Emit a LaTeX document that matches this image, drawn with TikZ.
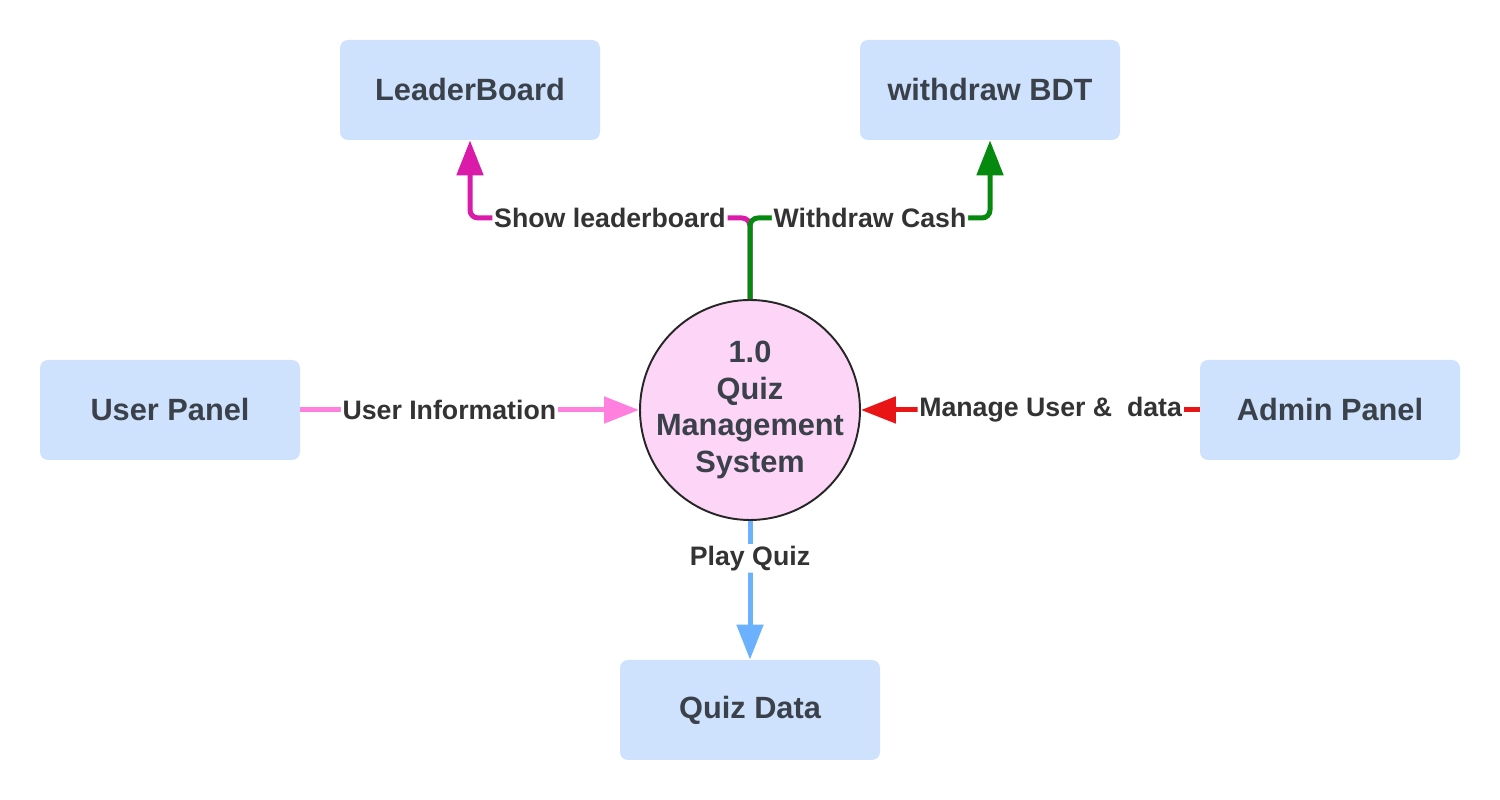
\documentclass[tikz,border=0pt]{standalone}
\usepackage{fontspec}
\setmainfont{Liberation Sans}
\usetikzlibrary{arrows.meta}
\definecolor{boxblue}{HTML}{CFE2FD}
\definecolor{boxtext}{HTML}{3A414A}
\definecolor{labtext}{HTML}{333333}
\definecolor{procpink}{HTML}{FDD5F6}
\definecolor{infopink}{HTML}{FF80DF}
\definecolor{mgmtred}{HTML}{E81416}
\definecolor{quizblue}{HTML}{6CB1FE}
\definecolor{lbmagenta}{HTML}{DA1AA8}
\definecolor{cashgreen}{HTML}{05890E}
\begin{document}
\begin{tikzpicture}[line join=round, line cap=butt,
		entity/.style={rectangle, rounded corners=1.6mm, fill=boxblue, minimum width=5.2cm, minimum height=2cm, text=boxtext, font=\bfseries\fontsize{17.5}{21}\selectfont},
		process/.style={circle, draw=black!85, line width=1.1pt, fill=procpink, minimum size=4.4cm, inner sep=-2mm, align=center, text=boxtext, font=\bfseries\fontsize{17.5}{21}\selectfont},
		flow/.style={line width=1mm, rounded corners=1.6mm, -{Triangle[length=7mm,width=5.2mm]}},
		flowlabel/.style={fill=white, inner sep=1pt, text=labtext, font=\bfseries\fontsize{15.2}{18}\selectfont}]
		\useasboundingbox (0,0) rectangle (30,16);
		% entities and the process
		\node[process] (proc) at (15,7.8) {1.0\\Quiz\\Management\\System};
		\node[entity] (lb) at (9.4,14.2) {LeaderBoard};
		\node[entity] (wd) at (19.8,14.2) {withdraw BDT};
		\node[entity] (user) at (3.4,7.8) {User Panel};
		\node[entity] (admin) at (26.6,7.8) {Admin Panel};
		\node[entity] (qdata) at (15,1.8) {Quiz Data};
		\coordinate (tee) at (15,11.64);
		% data flows
		\draw[flow, infopink] (user) -- node[flowlabel, pos=0.44] {User Information} (proc);
		\draw[flow, mgmtred] (admin) -- node[flowlabel, pos=0.44] {Manage User \&\ \ data} (proc);
		\draw[flow, quizblue] (proc) -- node[flowlabel, pos=0.27] {Play Quiz} (qdata);
		\draw[flow, lbmagenta] (proc.north) -- (tee) -| node[flowlabel, pos=0.25] {Show leaderboard} (lb.south);
		\draw[flow, cashgreen] (proc.north) -- (tee) -| node[flowlabel, pos=0.25] {Withdraw Cash} (wd.south);
		\end{tikzpicture}
\end{document}
